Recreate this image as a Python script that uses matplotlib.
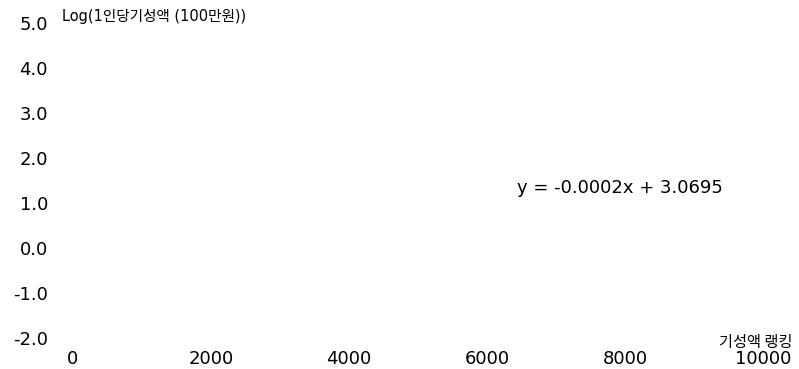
import matplotlib
matplotlib.use("Agg")
from matplotlib import pyplot as plt

plt.rcParams['font.family'] = ['DejaVu Sans', 'Noto Sans CJK KR']

# axis ticks and labels
x_ticks = [0, 2000, 4000, 6000, 8000, 10000]
y_ticks = [-2.0, -1.0, 0.0, 1.0, 2.0, 3.0, 4.0, 5.0]
y_title = 'Log(1인당기성액 (100만원))'
x_title = '기성액 랭킹'

# linear trend fitted on the ranking data
slope = -0.0002
intercept = 3.0695

fig = plt.figure(figsize=(7.99, 3.69), dpi=100)
ax = fig.add_axes([73 / 799, 1 - 338 / 369, 690 / 799, 315 / 369])
ax.set_xlim(0, 10000)
ax.set_ylim(-2, 5)

for s in ax.spines.values():
    s.set_visible(False)

ax.set_xticks(x_ticks)
ax.set_xticklabels([str(t) for t in x_ticks], fontsize=13)
ax.set_yticks(y_ticks)
ax.set_yticklabels(['%.1f' % t for t in y_ticks], fontsize=13)
ax.tick_params(length=0)
ax.tick_params(axis='x', pad=9)
ax.tick_params(axis='y', pad=18)

sign = '-' if slope < 0 else '+'
eq = 'y = %s%.4fx + %.4f' % (sign, abs(slope), intercept)
ax.text(6435, 1.33, eq, fontsize=13, ha='left', va='center')

fig.text(62 / 799, 1 - 16 / 369, y_title, fontsize=10.5, ha='left', va='center')
fig.text(792 / 799, 1 - 342 / 369, x_title, fontsize=11, ha='right', va='center',
         family=['Noto Sans CJK KR', 'DejaVu Sans'])

fig.savefig('out.png', dpi=100)
